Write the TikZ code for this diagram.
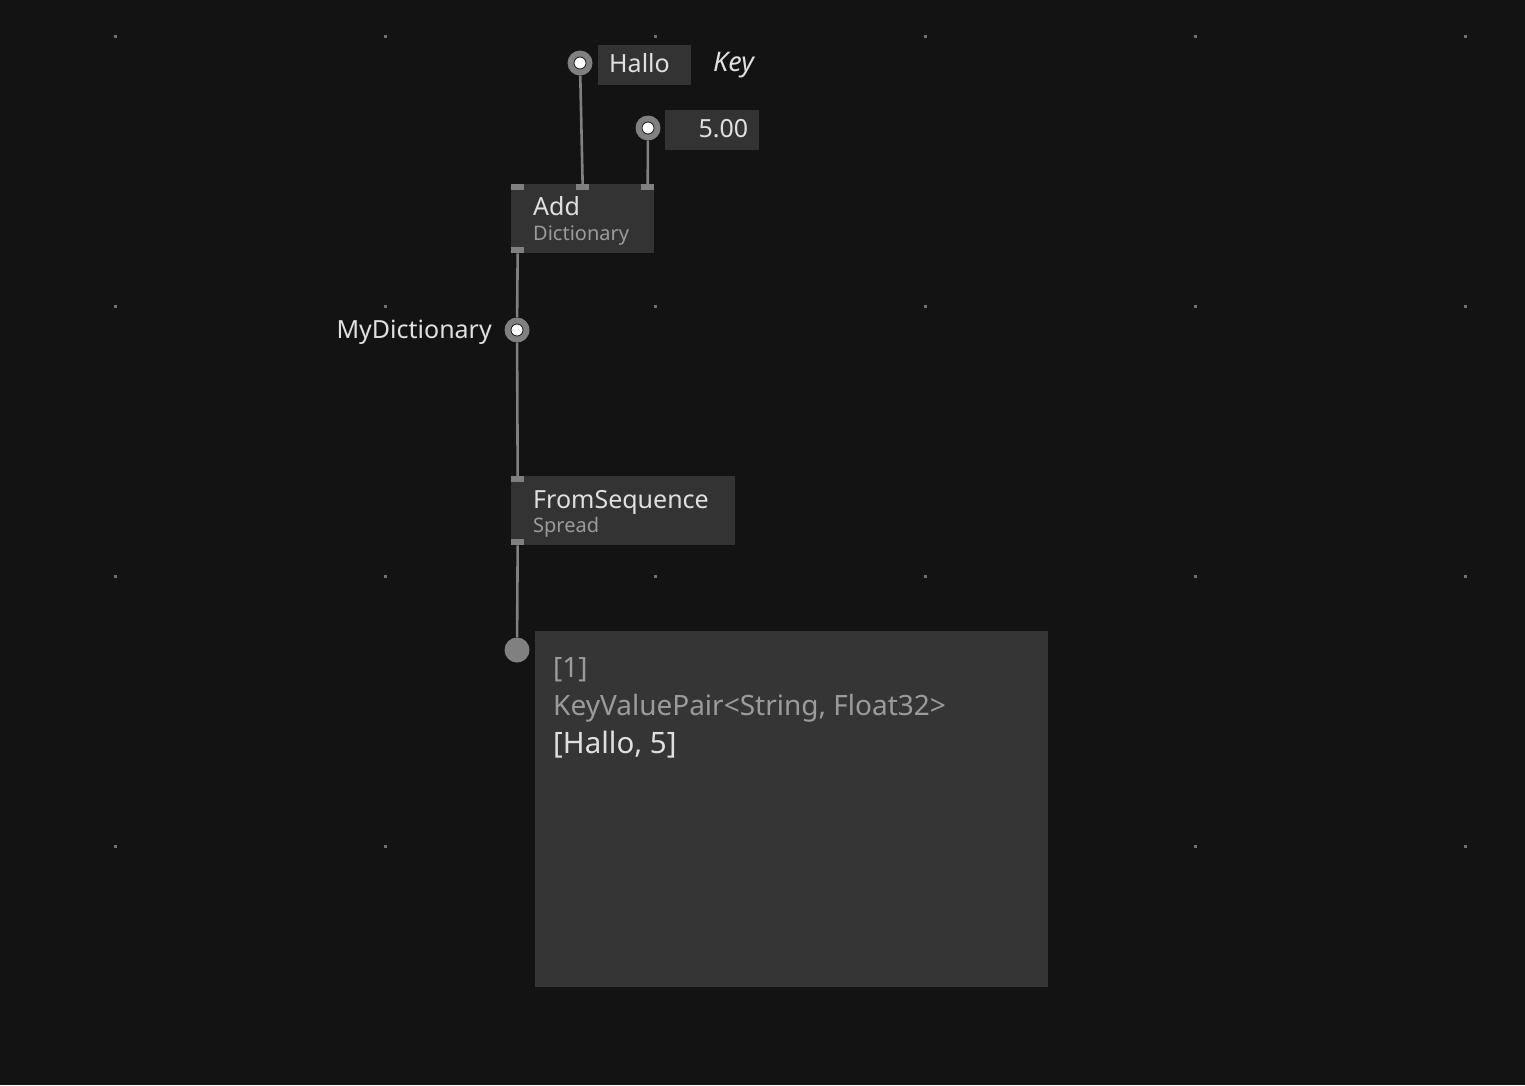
\documentclass[tikz,border=0pt]{standalone}
\usepackage{fontspec}
\setmainfont{Noto Sans}
\usetikzlibrary{positioning}
\definecolor{bg}{HTML}{131313}
\definecolor{boxfill}{HTML}{333333}
\definecolor{tipfill}{HTML}{353535}
\definecolor{pingray}{HTML}{808080}
\definecolor{griddot}{HTML}{707070}
\definecolor{txt}{HTML}{E0E0E0}
\definecolor{subtxt}{HTML}{9B9B9B}
\tikzset{  opnode/.style={fill=boxfill,anchor=north west,inner sep=0pt},
  pinbox/.style={fill=pingray,minimum width=13pt,minimum height=6pt,inner sep=0pt},
  iobox/.style={fill=boxfill,inner xsep=11pt,inner ysep=0pt,text height=27pt,text depth=13pt,anchor=north west,text=txt,font=\fontsize{25}{30}\selectfont},
  iopin/.style={circle,fill=pingray,minimum size=25pt,inner sep=0pt},
  link/.style={draw=pingray,line width=2.6pt},
  lbl/.style={text=txt,inner sep=0pt,font=\fontsize{25}{30}\selectfont},
  sublbl/.style={text=subtxt,inner sep=0pt,anchor=base west,font=\fontsize{20}{24}\selectfont} }

\begin{document}
\begin{tikzpicture}[x=1pt,y=-1pt]
   \fill[bg] (0,0) rectangle (1525,1085);
   \useasboundingbox (0,0) rectangle (1525,1085);
   \foreach \gx in {115,385,...,1465}
     \foreach \gy in {36,306,576,846}
       \fill[griddot] (\gx-1.5,\gy-1.5) rectangle (\gx+1.5,\gy+1.5);
   % inputs
   \node[iobox,text width=71pt] (hallo) at (598,45) {Hallo};
   \node[lbl,anchor=base west,font=\fontsize{27}{32}\selectfont\itshape] (key) at (713,71) {Key};
   \node[iobox,text width=72pt,align=right] (val) at (665,110) {5.00};
   \node[iopin] (hallopin) at (580,63) {};
   \node[iopin] (valpin) at (648,128) {};
   % Add
   \node[opnode,minimum width=143pt,minimum height=69pt] (add) at (511,184) {};
   \node[lbl,anchor=base west] (addname) at (533,215) {Add};
   \node[sublbl] (addcat) at (533,240) {Dictionary};
   \node[pinbox,anchor=north west] (addin1) at (add.north west) {};
   \node[pinbox,anchor=north west] (addin2) at (576,184) {};
   \node[pinbox,anchor=north east] (addin3) at (add.north east) {};
   \node[pinbox,anchor=south west] (addout) at (add.south west) {};
   % pad
   \node[iopin] (dictpin) at (517,330) {};
   \node[lbl,anchor=base east] (dictname) at (492,338) {MyDictionary};
   % FromSequence
   \node[opnode,minimum width=224pt,minimum height=69pt] (fromseq) at (511,476) {};
   \node[lbl,anchor=base west] (fsname) at (533,508) {FromSequence};
   \node[sublbl] (fscat) at (533,532) {Spread};
   \node[pinbox,anchor=north west] (fsin) at (fromseq.north west) {};
   \node[pinbox,anchor=south west] (fsout) at (fromseq.south west) {};
   % tooltip
   \node[iopin] (outpin) at (517,650) {};
   \node[opnode,fill=tipfill,minimum width=513pt,minimum height=356pt] (tip) at (535,631) {};
   \node[sublbl,font=\fontsize{28}{33}\selectfont] (tipidx) at (553,677) {[1]};
   \node[sublbl,font=\fontsize{28}{33}\selectfont] (tiptype) at (553,715) {KeyValuePair<String, Float32>};
   \node[lbl,anchor=base west,font=\fontsize{29.5}{34}\selectfont] (tipval) at (553,753) {[Hallo, 5]};
   % links
   \draw[link] (hallopin) -- (addin2);
   \draw[link] (valpin) -- (addin3);
   \draw[link] (addout) -- (dictpin);
   \draw[link] (dictpin) -- (fsin);
   \draw[link] (fsout) -- (outpin);
   \foreach \p in {hallopin,valpin,dictpin}
     \fill[white,draw=bg,line width=0.8pt] (\p) circle (6pt);
\end{tikzpicture}
\end{document}
